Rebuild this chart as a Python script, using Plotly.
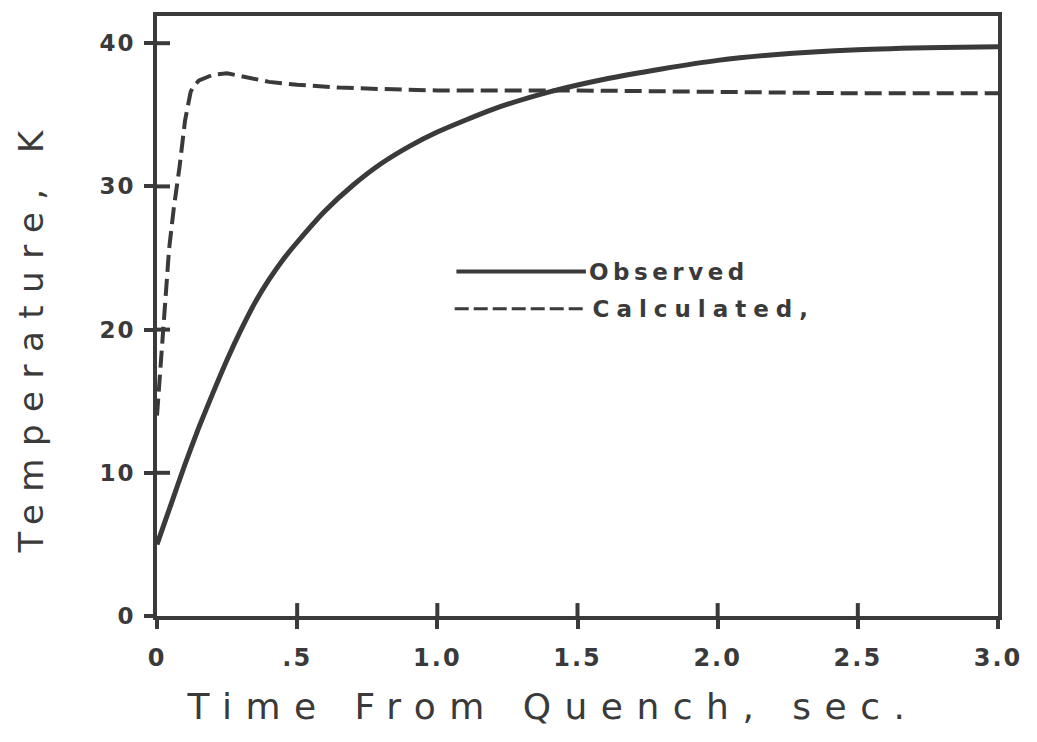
import plotly.graph_objects as go

# ---- data ----
obs_t = [0, 0.05, 0.1, 0.15, 0.2, 0.25, 0.3, 0.35, 0.4, 0.45, 0.5, 0.6, 0.7, 0.8, 0.9, 1.0,
         1.2, 1.4, 1.6, 1.8, 2.0, 2.2, 2.5, 2.8, 3.0]
obs_T = [5.0, 7.8, 10.6, 13.2, 15.6, 17.9, 20.0, 21.9, 23.5, 24.9, 26.1, 28.3, 30.1, 31.6, 32.8, 33.8,
         35.4, 36.6, 37.5, 38.2, 38.8, 39.2, 39.55, 39.7, 39.75]

calc_t = [0, 0.02, 0.043, 0.06, 0.08, 0.1, 0.11, 0.12, 0.13, 0.15, 0.2, 0.25, 0.3, 0.4, 0.5, 0.65,
          0.8, 1.0, 1.5, 2.0, 2.5, 3.0]
calc_T = [14.0, 19.0, 25.6, 28.5, 31.3, 34.6, 35.8, 36.6, 37.0, 37.4, 37.8, 37.9, 37.7, 37.3, 37.1, 36.9,
          36.8, 36.7, 36.7, 36.6, 36.5, 36.5]

x_ticks = [0, 0.5, 1.0, 1.5, 2.0, 2.5, 3.0]
x_tick_labels = ["0", ".5", "1.0", "1.5", "2.0", "2.5", "3.0"]
y_ticks = [0, 10, 20, 30, 40]
y_tick_labels = ["0", "10", "20", "30", "40"]

INK = "#3a3a3a"
FONT = "DejaVu Sans"
TICK_IN = 13  # px, inner half of the crossing ticks (measured from the plot edge)

W, H = 1037, 742
ML, MR, MT, MB = 157, 39, 13, 126
PW, PH = W - ML - MR, H - MT - MB

fig = go.Figure()
fig.add_trace(go.Scatter(x=obs_t, y=obs_T, mode="lines", name="Observed",
                         line=dict(color=INK, width=5, shape="spline", smoothing=0.6),
                         showlegend=False))
fig.add_trace(go.Scatter(x=calc_t, y=calc_T, mode="lines", name="Calculated,",
                         line=dict(color=INK, width=4, dash="17px,7px"), showlegend=False))

XR = [0, 3.0]
YR = [0, 41.9]

fig.update_layout(
    width=W, height=H,
    margin=dict(l=ML, r=MR, t=MT, b=MB),
    paper_bgcolor="white", plot_bgcolor="white",
    font=dict(family=FONT, color=INK),
    xaxis=dict(range=XR, tickvals=x_ticks, ticktext=x_tick_labels,
               showline=True, linewidth=4, linecolor=INK, mirror=True,
               ticks="outside", ticklen=9, tickwidth=4, tickcolor=INK,
               showgrid=False, zeroline=False,
               tickfont=dict(family=FONT, size=24, color=INK, weight="bold"), ticklabelstandoff=8),
    yaxis=dict(range=YR, tickvals=y_ticks, ticktext=y_tick_labels,
               showline=True, linewidth=4, linecolor=INK, mirror=True,
               ticks="outside", ticklen=9, tickwidth=4, tickcolor=INK,
               showgrid=False, zeroline=False,
               tickfont=dict(family=FONT, size=23, color=INK, weight="bold"), ticklabelstandoff=4),
    showlegend=False,
)

# inner halves of the crossing ticks, placed at the tick values
for v in x_ticks[1:-1]:
    fig.add_shape(type="line", xref="x", yref="paper", x0=v, x1=v, y0=-2 / PH, y1=TICK_IN / PH,
                  line=dict(color=INK, width=4), layer="above")
for v in y_ticks[1:]:
    fig.add_shape(type="line", xref="paper", yref="y", x0=-2 / PW, x1=TICK_IN / PW, y0=v, y1=v,
                  line=dict(color=INK, width=4), layer="above")

# legend keys (drawn in paper coordinates)
fig.add_shape(type="line", xref="paper", yref="paper", x0=0.356, x1=0.51, y0=0.574, y1=0.574,
              line=dict(color=INK, width=4))
fig.add_shape(type="line", xref="paper", yref="paper", x0=0.354, x1=0.508, y0=0.512, y1=0.512,
              line=dict(color=INK, width=3, dash="14px,5px"))
fig.add_annotation(text="Observed", xref="paper", yref="paper", x=0.609, y=0.574,
                   xanchor="center", yanchor="middle", showarrow=False,
                   font=dict(family=FONT, size=23, color=INK, weight="bold"))
fig.add_annotation(text="Calculated,", xref="paper", yref="paper", x=0.650, y=0.512,
                   xanchor="center", yanchor="middle", showarrow=False,
                   font=dict(family=FONT, size=23, color=INK, weight="bold"))

# axis titles
fig.add_annotation(text="Time From Quench, sec.", xref="paper", yref="paper",
                   x=0.47, y=-0.151, xanchor="center", yanchor="middle", showarrow=False,
                   font=dict(family=FONT, size=36, color=INK))
fig.add_annotation(text="Temperature, K", xref="paper", yref="paper",
                   x=-0.15, y=0.468, xanchor="center", yanchor="middle", showarrow=False,
                   textangle=-90, font=dict(family=FONT, size=34, color=INK))

post = """
document.body.style.margin = '0';
var gd = document.getElementById('{plot_id}');
function applyLS(){
  var map = {'Time From Quench, sec.':'13.5px', 'Temperature, K':'12.5px',
             'Observed':'4.5px', 'Calculated,':'7px'};
  gd.querySelectorAll('text').forEach(function(t){
    var s = t.textContent;
    if (map[s]) { t.style.letterSpacing = map[s]; }
  });
  gd.querySelectorAll('.xtick text, .ytick text').forEach(function(t){ t.style.letterSpacing = '2px'; });
}
applyLS();
if (gd.on) { gd.on('plotly_afterplot', applyLS); }
"""

fig.write_html("out.html", post_script=post, config={"displayModeBar": False})
